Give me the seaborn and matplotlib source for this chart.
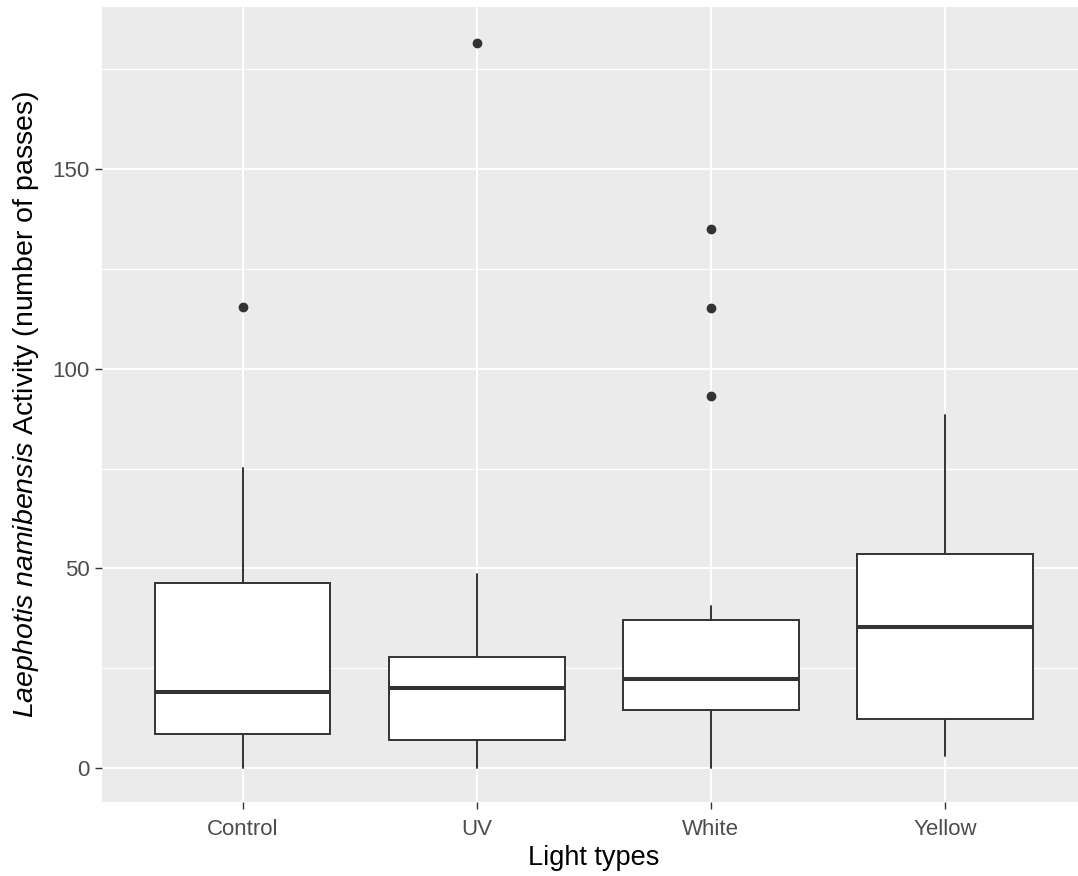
import matplotlib
matplotlib.use("Agg")
import matplotlib.pyplot as plt
import seaborn as sns

# box statistics (number of passes)
groups = ["Control", "UV", "White", "Yellow"]
whisker_low = [0, 0, 0, 3]
q1 = [8.6, 7.1, 14.6, 12.3]
median = [19.1, 20.0, 22.4, 35.4]
q3 = [46.3, 27.7, 37.1, 53.6]
whisker_high = [75.1, 48.6, 40.5, 88.4]
outliers = [[115.5], [181.5], [134.9, 115.2, 93.3], []]

sns.set_theme(style="darkgrid", rc={
    "axes.facecolor": "#EBEBEB",
    "grid.color": "white",
    "axes.edgecolor": "none",
    "xtick.bottom": True,
    "ytick.left": True,
    "xtick.color": "#333333",
    "ytick.color": "#333333",
    "xtick.major.size": 5,
    "ytick.major.size": 5,
    "xtick.major.width": 1.0,
    "ytick.major.width": 1.0,
})
plt.rcParams["font.family"] = ["Liberation Sans", "DejaVu Sans"]
plt.rcParams["mathtext.fontset"] = "custom"
plt.rcParams["mathtext.rm"] = "Liberation Sans"
plt.rcParams["mathtext.it"] = "Liberation Sans:italic"

fig = plt.figure(figsize=(10.78, 8.76), dpi=100)
ax = fig.add_axes([0.0948, 0.0845, 0.912, 0.9075])

stats = []
for i, g in enumerate(groups):
    stats.append({
        "label": g,
        "whislo": whisker_low[i],
        "q1": q1[i],
        "med": median[i],
        "q3": q3[i],
        "whishi": whisker_high[i],
        "fliers": outliers[i],
    })

positions = list(range(1, len(groups) + 1))
line_col = "#333333"
ax.bxp(
    stats, positions=positions, widths=0.75, patch_artist=True,
    showcaps=False, zorder=3,
    boxprops=dict(facecolor="white", edgecolor=line_col, linewidth=1.4),
    medianprops=dict(color=line_col, linewidth=2.9, solid_capstyle="butt"),
    whiskerprops=dict(color=line_col, linewidth=1.4),
    flierprops=dict(marker="o", markerfacecolor=line_col, markeredgecolor=line_col,
                    markersize=6.0, linestyle="none"),
)

ax.set_ylim(-8.5, 190.6)
ax.set_xlim(0.4, len(groups) + 0.6)
ax.set_xticks(positions)
ax.set_xticklabels(groups)
ax.set_yticks([0, 50, 100, 150])
ax.set_yticks([25, 75, 125, 175], minor=True)
ax.grid(which="major", color="white", linewidth=1.5)
ax.grid(which="minor", axis="y", color="white", linewidth=0.8)
ax.tick_params(axis="both", which="major", labelsize=16, labelcolor="#4D4D4D")
ax.tick_params(axis="x", which="major", pad=7)
ax.tick_params(axis="y", which="major", pad=4)
ax.tick_params(axis="both", which="minor", length=0)
for s in ax.spines.values():
    s.set_visible(False)

ax.set_xlabel("Light types", fontsize=19.5, color="black", labelpad=4)
ax.set_ylabel(r"$\it{Laephotis\ namibensis}$ Activity (number of passes)",
              fontsize=20.5, color="black", labelpad=8)

fig.savefig("out.png", dpi=100)
